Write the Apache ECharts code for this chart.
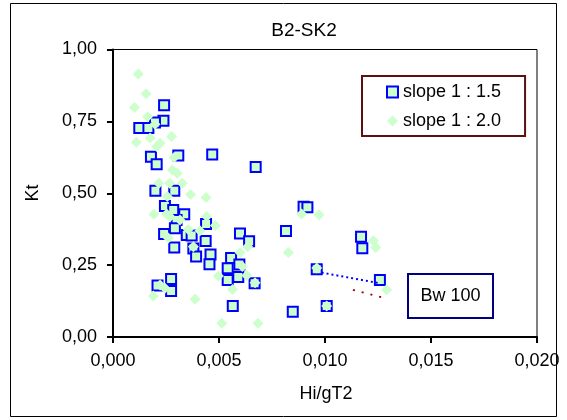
<!DOCTYPE html>
<html><head><meta charset="utf-8">
<script src="https://cdn.jsdelivr.net/npm/echarts@6/dist/echarts.min.js"></script>
<style>html,body{margin:0;padding:0;background:#fff}#c{width:567px;height:420px}</style>
</head><body><div id="c"></div>
<script>
const titleText = 'B2-SK2';
const xName = 'Hi/gT2';
const yName = 'Kt';
const seriesNames = ['slope 1 : 1.5', 'slope 1 : 2.0'];
const xTickLabels = ['0,000', '0,005', '0,010', '0,015', '0,020'];
const yTickLabels = ['0,00', '0,25', '0,50', '0,75', '1,00'];

const slope15 = [
  [0.00241,0.806],[0.00238,0.752],[0.00198,0.746],[0.00124,0.727],[0.00167,0.727],
  [0.00179,0.627],[0.00206,0.601],[0.00308,0.631],[0.00468,0.635],[0.00673,0.591],
  [0.00200,0.509],[0.00289,0.509],[0.00245,0.456],[0.00284,0.442],[0.00336,0.427],
  [0.00300,0.407],[0.00439,0.393],[0.00241,0.358],[0.00292,0.378],[0.00348,0.355],
  [0.00371,0.353],[0.00437,0.334],[0.00289,0.311],[0.00379,0.308],[0.00392,0.280],
  [0.00460,0.287],[0.00455,0.253],[0.00557,0.275],[0.00599,0.360],[0.00642,0.333],
  [0.00541,0.239],[0.00541,0.198],[0.00596,0.252],[0.00591,0.209],[0.00668,0.187],
  [0.00565,0.108],[0.00274,0.202],[0.00210,0.179],[0.00274,0.160],[0.00899,0.453],
  [0.00917,0.451],[0.00816,0.369],[0.01170,0.349],[0.01176,0.309],[0.00961,0.236],
  [0.01259,0.198],[0.01008,0.108],[0.00848,0.088]
];
const slope20 = [
  [0.00119,0.915],[0.00156,0.846],[0.00101,0.798],[0.00163,0.766],[0.00175,0.692],
  [0.00110,0.677],[0.00222,0.674],[0.00206,0.663],[0.00276,0.697],[0.00288,0.624],
  [0.00280,0.581],[0.00303,0.570],[0.00327,0.535],[0.00216,0.535],[0.00267,0.535],
  [0.00366,0.496],[0.00439,0.485],[0.00256,0.489],[0.00193,0.427],[0.00253,0.428],
  [0.00442,0.419],[0.00483,0.388],[0.00316,0.407],[0.00355,0.374],[0.00410,0.370],
  [0.00379,0.314],[0.00261,0.344],[0.00599,0.294],[0.00635,0.314],[0.00610,0.245],
  [0.00497,0.212],[0.00631,0.214],[0.00564,0.165],[0.00387,0.131],[0.00190,0.143],
  [0.00513,0.048],[0.00684,0.048],[0.00245,0.170],[0.00890,0.428],[0.00972,0.425],
  [0.00827,0.294],[0.01228,0.335],[0.01239,0.311],[0.00961,0.240],[0.01291,0.164],
  [0.01008,0.108],[0.00670,0.189],[0.00269,0.418],[0.00222,0.181],[0.00198,0.740]
];
const trend15 = [[0.00984,0.224],[0.01250,0.188]];
const trend20 = [[0.01132,0.164],[0.01278,0.136]];

const FONT = 'Liberation Sans, Arial, sans-serif';
const chart = echarts.init(document.getElementById('c'), null, {renderer:'canvas'});
const xLab = v => xTickLabels[Math.round(v / 0.005)] ?? '';
const yLab = v => yTickLabels[Math.round(v / 0.25)] ?? '';

chart.setOption({
  animation: false,
  backgroundColor: '#fff',
  grid: {left:113, right:30, top:49.5, bottom:83, show:true, borderColor:'#000', borderWidth:1, backgroundColor:'transparent'},
  xAxis: {
    type:'value', min:0, max:0.02, interval:0.005,
    axisLine:{show:true, onZero:false, lineStyle:{color:'#000', width:2}},
    axisTick:{show:true, inside:false, length:6, lineStyle:{color:'#000', width:2}},
    axisLabel:{formatter:xLab, margin:15, fontSize:18, color:'#000', fontFamily:FONT},
    splitLine:{show:false}
  },
  yAxis: {
    type:'value', min:0, max:1, interval:0.25,
    axisLine:{show:true, onZero:false, lineStyle:{color:'#000', width:2}},
    axisTick:{show:true, inside:false, length:6, lineStyle:{color:'#000', width:2}},
    axisLabel:{formatter:yLab, margin:16, fontSize:18, color:'#000', fontFamily:FONT},
    splitLine:{show:false}
  },
  legend: {
    data: seriesNames, orient:'vertical', left:362, top:76,
    padding:[7,24,6,24], itemGap:11, itemWidth:11, itemHeight:11,
    borderColor:'#5c1010', borderWidth:2, backgroundColor:'#fff',
    textStyle:{fontFamily:FONT, fontSize:18, color:'#000'},
    selectedMode:false
  },
  series: [
    {name:seriesNames[0], type:'scatter', symbol:'rect', symbolSize:10, z:2,
     itemStyle:{color:'#ccffcc', borderColor:'#0000ff', borderWidth:2, opacity:1},
     emphasis:{disabled:true}, data:slope15},
    {name:seriesNames[1], type:'scatter', symbol:'diamond', symbolSize:11, z:3,
     itemStyle:{color:'#ccffcc', opacity:1},
     emphasis:{disabled:true}, data:slope20},
    {type:'line', symbol:'none', z:4, silent:true, data:trend15,
     lineStyle:{color:'#0000ff', width:2, type:[2,3]}},
    {type:'line', symbol:'none', z:4, silent:true, data:trend20,
     lineStyle:{color:'#990000', width:2, type:[2,7]}}
  ],
  graphic: [
    {type:'rect', z:0, silent:true, shape:{x:10.5, y:3.5, width:546, height:413},
     style:{fill:'none', stroke:'#000', lineWidth:1}},
    {type:'text', x:304, y:31, silent:true,
     style:{text:titleText, font:'19px '+FONT, fill:'#000', align:'center', verticalAlign:'middle'}},
    {type:'text', x:326, y:394, silent:true,
     style:{text:xName, font:'18px '+FONT, fill:'#000', align:'center', verticalAlign:'middle'}},
    {type:'text', x:33, y:193, rotation:Math.PI/2, silent:true,
     style:{text:yName, font:'18px '+FONT, fill:'#000', align:'center', verticalAlign:'middle'}},
    {type:'rect', z:10, silent:true, shape:{x:408, y:274, width:85, height:44},
     style:{fill:'#fff', stroke:'#000080', lineWidth:2}},
    {type:'text', z:11, x:450.5, y:296, silent:true,
     style:{text:'Bw 100', font:'18px '+FONT, fill:'#000', align:'center', verticalAlign:'middle'}}
  ]
});
</script></body></html>
